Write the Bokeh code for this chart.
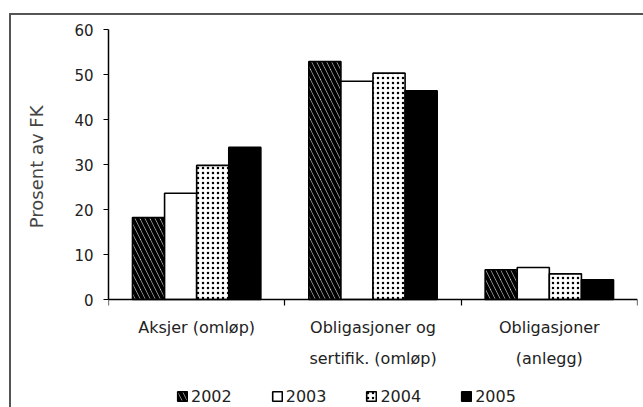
from bokeh.plotting import figure
from bokeh.models import (ColumnDataSource, Range1d, FixedTicker, Legend, LegendItem, Title)
from bokeh.transform import dodge
from bokeh.embed import file_html
from bokeh.resources import INLINE

categories = ["Aksjer (omløp)", "Obligasjoner og\nsertifik. (omløp)", "Obligasjoner\n(anlegg)"]
years = ["2002", "2003", "2004", "2005"]
v2002 = [18.2, 52.9, 6.6]
v2003 = [23.6, 48.5, 7.1]
v2004 = [29.8, 50.3, 5.7]
v2005 = [33.8, 46.4, 4.4]
y_ticks = [0, 10, 20, 30, 40, 50, 60]
y_title = "Prosent av FK"

centers = [i + 0.5 for i in range(len(categories))]
src = ColumnDataSource(dict(xc=centers, y2002=v2002, y2003=v2003, y2004=v2004, y2005=v2005))

FONT = "DejaVu Sans"
# frame extends below zero so that category labels and legend live inside it
p = figure(width=643, height=407, output_backend="svg", toolbar_location=None,
           x_range=Range1d(0, 3), y_range=Range1d(-24, 60),
           min_border_left=108, min_border_right=6, min_border_top=29, min_border_bottom=0)
p.styles = {"background": "linear-gradient(#555555,#555555) 9px 13px / 2px 400px no-repeat, "
                          "linear-gradient(#555555,#555555) 9px 13px / 640px 2px no-repeat"}
p.outline_line_color = None
p.grid.visible = False
p.background_fill_alpha = 0
p.border_fill_alpha = 0

bw = 0.182
styles = [
    dict(fill_color="white", hatch_pattern="\\", hatch_color="black", hatch_scale=10, hatch_weight=4),
    dict(fill_color="white"),
    dict(fill_color="white", hatch_pattern=".", hatch_color="black", hatch_scale=5, hatch_weight=1.3),
    dict(fill_color="black"),
]
offsets = [-1.5 * bw, -0.5 * bw, 0.5 * bw, 1.5 * bw]
renderers = []
for yr, off, st in zip(years, offsets, styles):
    r = p.vbar(x=dodge("xc", off, range=p.x_range), top="y" + yr, width=bw, bottom=0,
               source=src, line_color="black", line_width=1.6, **st)
    renderers.append(r)

# y axis
ya = p.yaxis[0]
ya.ticker = FixedTicker(ticks=y_ticks)
ya.bounds = (0, 60)
ya.minor_tick_line_color = None
ya.major_tick_in = 0
ya.major_tick_out = 5
ya.major_tick_line_color = "black"
ya.axis_line_color = "black"
ya.axis_line_width = 1.5
ya.major_label_standoff = 10
ya.major_label_text_font = FONT
ya.major_label_text_font_size = "15px"
ya.major_label_text_color = "#222222"

# y axis title, placed along the 0-60 span
yt = Title(text=y_title, align="right", offset=76, standoff=48, vertical_align="middle",
           text_font=FONT, text_font_size="18px", text_font_style="normal",
           text_color="#444444")
p.add_layout(yt, "left")

# x axis, drawn at y = 0
xa = p.xaxis[0]
xa.fixed_location = 0
xa.ticker = FixedTicker(ticks=centers, minor_ticks=[0, 1, 2, 3])
xa.major_label_overrides = {c: lab for c, lab in zip(centers, categories)}
xa.major_tick_line_color = None
xa.major_tick_in = 0
xa.major_tick_out = 0
xa.minor_tick_in = 0
xa.minor_tick_out = 6
xa.minor_tick_line_color = "black"
xa.minor_tick_line_width = 1.2
xa.axis_line_color = "black"
xa.axis_line_width = 1.5
xa.major_label_standoff = 12
xa.major_label_text_font = FONT
xa.major_label_text_font_size = "16px"
xa.major_label_text_color = "#222222"
xa.major_label_text_line_height = 1.65

legend = Legend(items=[LegendItem(label=y, renderers=[r]) for y, r in zip(years, renderers)],
                orientation="horizontal", location=(68, 1))
legend.border_line_color = None
legend.background_fill_alpha = 0
legend.padding = 0
legend.margin = 0
legend.glyph_width = 12
legend.glyph_height = 12
legend.label_standoff = 3
legend.spacing = 39
legend.label_text_font = FONT
legend.label_text_font_size = "16px"
legend.label_text_color = "#222222"
legend.label_height = 20
p.add_layout(legend)

open("out.html", "w").write(file_html(p, INLINE))
